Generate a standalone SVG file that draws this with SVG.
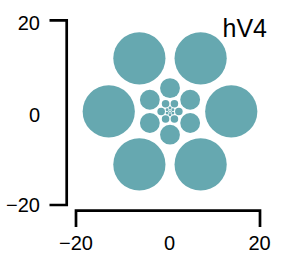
<svg xmlns="http://www.w3.org/2000/svg" width="281" height="262" viewBox="0 0 281 262">
<style>
.c{fill:#66A8B0}
.ax{fill:none;stroke:#000;stroke-width:2.7;stroke-linecap:butt;stroke-linejoin:miter}
.t{font-family:"Liberation Sans",Arial,sans-serif;font-size:20px;fill:#000}
.lab{font-family:"Liberation Sans",Arial,sans-serif;font-size:25px;fill:#000}
</style>
<rect width="281" height="262" fill="#fff"/>
<g id="axes">
<path class="ax" d="M49.5,20.3 H66.7 V205 H49.5"/>
<path class="ax" d="M76,227 V210.7 H260 V227"/>
</g>
<g id="ticklabels">
<text class="t" x="40" y="30" text-anchor="end">20</text>
<text class="t" x="40" y="121.7" text-anchor="end">0</text>
<text class="t" x="40" y="211.7" text-anchor="end">−20</text>
<text class="t" x="76" y="249.5" text-anchor="middle">−20</text>
<text class="t" x="169.5" y="249.5" text-anchor="middle">0</text>
<text class="t" x="259.5" y="249.5" text-anchor="middle">20</text>
</g>
<g id="title"><text class="lab" x="222.5" y="37.3">hV4</text></g>
<g id="ring0">
<circle class="c" cx="231.25" cy="111.4" r="26.1"/>
<circle class="c" cx="200.63" cy="58.36" r="26.1"/>
<circle class="c" cx="139.38" cy="58.36" r="26.1"/>
<circle class="c" cx="108.75" cy="111.4" r="26.1"/>
<circle class="c" cx="139.38" cy="164.44" r="26.1"/>
<circle class="c" cx="200.63" cy="164.44" r="26.1"/>
</g>
<g id="ring1">
<circle class="c" cx="190.16" cy="99.76" r="9.92"/>
<circle class="c" cx="170" cy="88.12" r="9.92"/>
<circle class="c" cx="149.84" cy="99.76" r="9.92"/>
<circle class="c" cx="149.84" cy="123.04" r="9.92"/>
<circle class="c" cx="170" cy="134.68" r="9.92"/>
<circle class="c" cx="190.16" cy="123.04" r="9.92"/>
</g>
<g id="ring2">
<circle class="c" cx="178.84" cy="111.4" r="3.77"/>
<circle class="c" cx="174.42" cy="103.74" r="3.77"/>
<circle class="c" cx="165.58" cy="103.74" r="3.77"/>
<circle class="c" cx="161.16" cy="111.4" r="3.77"/>
<circle class="c" cx="165.58" cy="119.06" r="3.77"/>
<circle class="c" cx="174.42" cy="119.06" r="3.77"/>
</g>
<g id="ring3">
<circle class="c" cx="172.91" cy="109.72" r="1.43"/>
<circle class="c" cx="170" cy="108.04" r="1.43"/>
<circle class="c" cx="167.09" cy="109.72" r="1.43"/>
<circle class="c" cx="167.09" cy="113.08" r="1.43"/>
<circle class="c" cx="170" cy="114.76" r="1.43"/>
<circle class="c" cx="172.91" cy="113.08" r="1.43"/>
</g>
<g id="ring4">
<circle class="c" cx="171.28" cy="111.4" r="0.54"/>
<circle class="c" cx="170.64" cy="110.29" r="0.54"/>
<circle class="c" cx="169.36" cy="110.29" r="0.54"/>
<circle class="c" cx="168.72" cy="111.4" r="0.54"/>
<circle class="c" cx="169.36" cy="112.51" r="0.54"/>
<circle class="c" cx="170.64" cy="112.51" r="0.54"/>
</g>
</svg>
